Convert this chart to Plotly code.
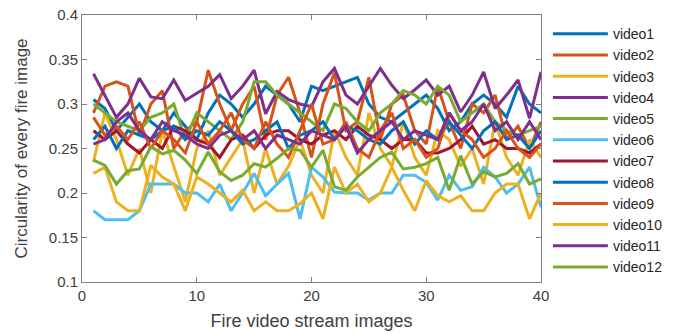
import plotly.graph_objects as go

x_vals = list(range(1, 41))

video1 = [0.305,0.295,0.27,0.285,0.30,0.28,0.27,0.29,0.275,0.26,0.29,0.31,0.30,0.285,0.30,0.32,0.31,0.30,0.28,0.32,
          0.315,0.32,0.325,0.33,0.30,0.285,0.28,0.29,0.30,0.31,0.295,0.27,0.28,0.30,0.31,0.30,0.285,0.32,0.30,0.29]
video2 = [0.29,0.32,0.325,0.32,0.265,0.30,0.315,0.25,0.27,0.28,0.338,0.30,0.27,0.30,0.32,0.26,0.31,0.33,0.29,0.24,
          0.30,0.335,0.27,0.28,0.33,0.26,0.30,0.31,0.27,0.255,0.32,0.28,0.25,0.30,0.29,0.31,0.26,0.275,0.25,0.28]
video3 = [0.235,0.29,0.26,0.22,0.25,0.20,0.27,0.23,0.19,0.25,0.27,0.22,0.24,0.26,0.20,0.25,0.21,0.23,0.26,0.22,
          0.20,0.27,0.24,0.22,0.29,0.25,0.23,0.28,0.24,0.22,0.27,0.26,0.23,0.25,0.21,0.28,0.24,0.22,0.26,0.24]
video4 = [0.334,0.31,0.285,0.30,0.329,0.308,0.306,0.327,0.304,0.312,0.32,0.333,0.306,0.32,0.338,0.289,0.314,0.305,0.30,0.297,
          0.325,0.34,0.31,0.30,0.32,0.34,0.321,0.306,0.316,0.327,0.31,0.32,0.291,0.31,0.336,0.295,0.31,0.327,0.284,0.336]
video5 = [0.30,0.29,0.28,0.275,0.27,0.285,0.29,0.30,0.26,0.29,0.28,0.27,0.26,0.28,0.325,0.325,0.31,0.30,0.29,0.28,
          0.27,0.30,0.295,0.28,0.27,0.29,0.30,0.315,0.31,0.30,0.32,0.31,0.28,0.29,0.30,0.28,0.27,0.265,0.27,0.275]
video6 = [0.18,0.17,0.17,0.17,0.18,0.21,0.21,0.21,0.20,0.20,0.19,0.21,0.18,0.20,0.222,0.197,0.21,0.222,0.171,0.229,
          0.218,0.201,0.20,0.20,0.192,0.20,0.20,0.22,0.22,0.212,0.192,0.22,0.203,0.207,0.229,0.218,0.20,0.21,0.229,0.184]
video7 = [0.27,0.26,0.27,0.255,0.245,0.26,0.25,0.275,0.27,0.26,0.255,0.24,0.26,0.265,0.25,0.265,0.27,0.27,0.26,0.255,
          0.265,0.27,0.26,0.275,0.265,0.26,0.25,0.26,0.26,0.245,0.245,0.25,0.26,0.275,0.255,0.26,0.25,0.25,0.245,0.255]
video8 = [0.26,0.275,0.25,0.27,0.265,0.26,0.27,0.275,0.26,0.27,0.265,0.28,0.27,0.255,0.26,0.27,0.28,0.25,0.265,0.27,
          0.28,0.26,0.275,0.27,0.26,0.255,0.27,0.28,0.255,0.27,0.26,0.28,0.265,0.25,0.27,0.28,0.26,0.265,0.25,0.27]
video9 = [0.285,0.265,0.275,0.26,0.28,0.25,0.27,0.26,0.245,0.28,0.255,0.27,0.29,0.26,0.25,0.28,0.255,0.24,0.27,0.30,
          0.255,0.26,0.28,0.25,0.24,0.27,0.29,0.25,0.26,0.24,0.25,0.29,0.27,0.26,0.24,0.25,0.27,0.25,0.24,0.255]
video10 = [0.222,0.229,0.19,0.18,0.18,0.231,0.218,0.21,0.18,0.218,0.21,0.20,0.19,0.203,0.18,0.19,0.18,0.18,0.188,0.20,
           0.171,0.229,0.20,0.21,0.19,0.20,0.229,0.203,0.18,0.214,0.197,0.19,0.197,0.18,0.18,0.20,0.21,0.21,0.171,0.20]
video11 = [0.255,0.26,0.28,0.29,0.27,0.26,0.28,0.27,0.265,0.255,0.25,0.265,0.27,0.26,0.27,0.25,0.265,0.26,0.255,0.27,
           0.265,0.26,0.275,0.245,0.26,0.27,0.28,0.26,0.27,0.265,0.26,0.29,0.27,0.28,0.30,0.27,0.28,0.26,0.28,0.26]
video12 = [0.237,0.231,0.21,0.225,0.227,0.252,0.244,0.248,0.237,0.222,0.246,0.224,0.214,0.22,0.233,0.229,0.239,0.25,0.248,0.229,
           0.248,0.207,0.203,0.218,0.229,0.24,0.246,0.227,0.229,0.233,0.24,0.203,0.242,0.21,0.224,0.218,0.222,0.233,0.21,0.216]

series_names = ["video1","video2","video3","video4","video5","video6",
                "video7","video8","video9","video10","video11","video12"]
series_values = [video1, video2, video3, video4, video5, video6,
                 video7, video8, video9, video10, video11, video12]
colors = ["#0072BD","#D95319","#EDB120","#7E2F8E","#77AC30","#4DBEEE",
          "#A2142F","#0072BD","#D95319","#EDB120","#7E2F8E","#77AC30"]

x_ticks = [0, 10, 20, 30, 40]
y_ticks = [0.1, 0.15, 0.2, 0.25, 0.3, 0.35, 0.4]

fig = go.Figure()
for name, vals, c in zip(series_names, series_values, colors):
    fig.add_trace(go.Scatter(x=x_vals, y=vals, mode="lines", name=name,
                             line=dict(color=c, width=3)))

axis_color = "#7f7f7f"
font_fam = "Liberation Sans, Arial, sans-serif"
fig.update_layout(
    width=677, height=334,
    margin=dict(l=82, r=136, t=15, b=52, autoexpand=False),
    paper_bgcolor="white", plot_bgcolor="white",
    font=dict(family=font_fam, size=15, color="#404040"),
    showlegend=True,
    legend=dict(x=1.015, y=0.988, xanchor="left", yanchor="top",
                font=dict(size=14, color="#262626"), maxheight=330,
                bgcolor="rgba(0,0,0,0)", itemwidth=55, tracegroupgap=0),
    xaxis=dict(range=[0, 40], tickvals=x_ticks, ticks="inside", ticklen=5,
               showgrid=False, zeroline=False, showline=True, mirror="ticks",
               linecolor=axis_color, tickcolor=axis_color, linewidth=1,
               title=dict(text="Fire video stream images", font=dict(size=18), standoff=11)),
    yaxis=dict(range=[0.1, 0.4], tickvals=y_ticks, ticks="inside", ticklen=5,
               tickformat="~g",
               showgrid=False, zeroline=False, showline=True, mirror="ticks",
               linecolor=axis_color, tickcolor=axis_color, linewidth=1,
               title=dict(text="Circularity of every fire image", font=dict(size=17), standoff=16)),
)

fig.write_html("out.html")
